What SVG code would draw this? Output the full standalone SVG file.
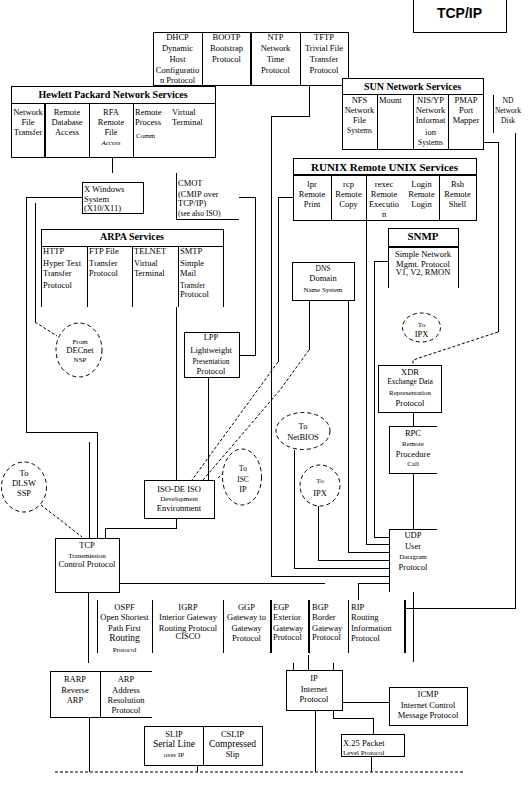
<svg xmlns="http://www.w3.org/2000/svg" width="530" height="808" viewBox="0 0 530 808">
<style>
text{font-family:"Liberation Serif","Times New Roman",serif;font-size:8.5px;fill:#000;text-anchor:middle}
.l{text-anchor:start}
.s{font-size:7px}
.m{font-size:7.5px}
.g{font-size:9.5px}
.h{font-weight:bold;font-size:10px}
.h11{font-weight:bold;font-size:11px}
.i{font-style:italic}
.ttl{font-family:"Liberation Sans",Arial,sans-serif;font-weight:bold;font-size:14px}
.bx{fill:#fff;stroke:#000;stroke-width:1;shape-rendering:crispEdges}
.op{fill:none;stroke:#000;stroke-width:1;shape-rendering:crispEdges}
.th{stroke-width:2}
.ov{fill:#fff;stroke:#000;stroke-width:1;stroke-dasharray:4 3}
#connectors path{fill:none;stroke:#000;stroke-width:1;shape-rendering:crispEdges}
#connectors path.d{stroke-dasharray:3 2;shape-rendering:auto}
</style>
<rect width="530" height="808" fill="#fff"/>

<g id="connectors">
<path d="M112,157 V173"/>
<path d="M82,197 H26 V432 H97 V538"/>
<path d="M89,442 V538"/>
<path d="M35,203 V322"/>
<path class="d" d="M35,322 L57,336"/>
<path d="M239,197 H255 V355 H239"/>
<path d="M176,307 V480"/>
<path d="M208,377 V480"/>
<path d="M176,518 V528 H105 V538"/>
<path class="d" d="M41,505 L82,537"/>
<path d="M119,583 H325"/>
<path d="M88,592 V663"/>
<path d="M89,717 V772"/>
<path d="M309,85 V116 H271 V576 H389"/>
<path d="M293,197 H278 V362"/>
<path class="d" d="M278,362 L192,480"/>
<path d="M309,300 V350"/>
<path class="d" d="M309,350 L280,390 L203,480"/>
<path class="d" d="M218,478 L227,470"/>
<path d="M348,300 V552 H389"/>
<path d="M366,220 V544 H389"/>
<path d="M388,261 H374 V537 H389"/>
<path d="M483,142 H498 V332"/>
<path class="d" d="M498,332 L413,360 V365"/>
<path d="M515,133 V608 H405"/>
<path d="M413,412 V426"/>
<path d="M413,473 V529"/>
<path d="M294,450 V568 H389"/>
<path d="M318,506 V560 H389"/>
<path d="M389,583 H358 V600"/>
<path d="M413,592 V662"/>
<path d="M293,663 V670"/>
<path d="M308,655 V670"/>
<path d="M333,663 V670"/>
<path d="M342,702 H389"/>
<path d="M333,710 V718 H373 V734"/>
<path d="M371,756 V772"/>
<path d="M315,710 V772"/>
<path d="M197,765 V772"/>
<path class="d" d="M55,772 H465"/>
</g>

<g id="tcpip">
<rect class="bx" x="413" y="-1" width="93" height="33"/>
<text class="ttl" x="459.5" y="18">TCP/IP</text>
</g>

<g id="dhcp">
<rect class="bx" x="153" y="32" width="49" height="53"/>
<text x="177.5" y="40">DHCP</text>
<text x="177.5" y="51">Dynamic</text>
<text x="177.5" y="62">Host</text>
<text x="177.5" y="73">Configuratio</text>
<text x="177.5" y="83">n Protocol</text>
</g>
<g id="bootp">
<rect class="bx" x="202" y="32" width="49" height="53"/>
<text x="226.5" y="40">BOOTP</text>
<text x="226.5" y="51">Bootstrap</text>
<text x="226.5" y="62">Protocol</text>
</g>
<g id="ntp">
<rect class="bx" x="251" y="32" width="49" height="53"/>
<path class="op th" d="M251,32 V85"/>
<text x="275.5" y="40">NTP</text>
<text x="275.5" y="51">Network</text>
<text x="275.5" y="62">Time</text>
<text x="275.5" y="73">Protocol</text>
</g>
<g id="tftp">
<rect class="bx" x="300" y="32" width="48" height="53"/>
<text x="324" y="40">TFTP</text>
<text x="324" y="51">Trivial File</text>
<text x="324" y="62">Transfer</text>
<text x="324" y="73">Protocol</text>
</g>

<g id="hp">
<rect class="bx" x="11" y="86" width="204" height="71"/>
<path class="op" d="M11,103 H215 M89,103 V157 M133,103 V157"/>
<path class="op th" d="M45,103 V157"/>
<text class="h" x="113" y="98">Hewlett Packard Network Services</text>
<text x="28" y="115">Network</text>
<text x="28" y="125">File</text>
<text x="28" y="135">Transfer</text>
<text x="67" y="115">Remote</text>
<text x="67" y="125">Database</text>
<text x="67" y="135">Access</text>
<text x="111" y="115">RFA</text>
<text x="111" y="125">Remote</text>
<text x="111" y="135">File</text>
<text class="s i" x="111" y="145">Access</text>
<text class="l" x="135" y="115">Remote</text>
<text class="l" x="135" y="125">Process</text>
<text class="l s" x="136" y="138">Comm</text>
<text class="l" x="172" y="115">Virtual</text>
<text class="l" x="172" y="125">Terminal</text>
</g>

<g id="xwindows">
<rect class="bx" x="82" y="182" width="61" height="31"/>
<text class="l" x="84" y="192">X Windows</text>
<text class="l" x="84" y="201.5">System</text>
<text class="l" x="84" y="210.5">(X10/X11)</text>
</g>

<g id="cmot">
<path class="op" d="M176,173 V219 H239"/>
<text class="l" x="178" y="186">CMOT</text>
<text class="l" x="178" y="196.5">(CMIP over</text>
<text class="l" x="178" y="206">TCP/IP)</text>
<text class="l m" x="178" y="215.5">(see also ISO)</text>
</g>

<g id="arpa">
<path class="bx" d="M41,307 V229 H223 V307"/>
<path class="op" d="M41,246 H223 M87,246 V307 M132,246 V307 M178,246 V307"/>
<text class="h" x="132" y="240">ARPA Services</text>
<text class="l" x="43" y="254">HTTP</text>
<text class="l" x="43" y="266">Hyper Text</text>
<text class="l" x="43" y="276">Transfer</text>
<text class="l" x="43" y="288">Protocol</text>
<text class="l" x="89" y="254">FTP File</text>
<text class="l" x="89" y="266">Transfer</text>
<text class="l" x="89" y="276">Protocol</text>
<text class="l" x="134" y="254">TELNET</text>
<text class="l" x="134" y="266">Virtual</text>
<text class="l" x="134" y="276">Terminal</text>
<text class="l" x="180" y="254">SMTP</text>
<text class="l" x="180" y="266">Simple</text>
<text class="l" x="180" y="276">Mail</text>
<text class="l m" x="180" y="288">Transfer</text>
<text class="l" x="180" y="297">Protocol</text>
</g>

<g id="decnet">
<ellipse class="ov" cx="79" cy="350" rx="23" ry="27"/>
<text class="s" x="80" y="344">From</text>
<text x="80" y="353">DECnet</text>
<text class="s" x="80" y="362">NSP</text>
</g>

<g id="lpp">
<rect class="bx" x="184" y="332" width="55" height="45"/>
<text x="211" y="340">LPP</text>
<text x="211" y="353">Lightweight</text>
<text class="m" x="211" y="363.5">Presentation</text>
<text x="211" y="373.5">Protocol</text>
</g>

<g id="isode">
<rect class="bx" x="144" y="480" width="70" height="38"/>
<text x="179" y="492">ISO-DE ISO</text>
<text class="s" x="179" y="501">Development</text>
<text x="179" y="511">Environment</text>
</g>

<g id="iscip">
<ellipse class="ov" cx="242" cy="477" rx="19.5" ry="28"/>
<text class="m" x="243" y="471">To</text>
<text class="m" x="243" y="482">ISC</text>
<text x="243" y="492">IP</text>
</g>

<g id="dlsw">
<ellipse class="ov" cx="24" cy="487" rx="22.5" ry="25"/>
<text x="24" y="476">To</text>
<text x="24" y="486">DLSW</text>
<text x="24" y="496">SSP</text>
</g>

<g id="tcp">
<rect class="bx" x="55" y="538" width="64" height="54"/>
<text x="87" y="548">TCP</text>
<text class="s" x="87" y="558">Transmission</text>
<text x="87" y="567">Control Protocol</text>
</g>

<g id="sun">
<rect class="bx" x="342" y="78" width="141" height="71"/>
<path class="op" d="M342,94 H483 M377,94 V149 M413,94 V149 M448,94 V149"/>
<text class="h" x="412.5" y="90">SUN Network Services</text>
<text x="359.5" y="103">NFS</text>
<text x="359.5" y="113">Network</text>
<text x="359.5" y="123">File</text>
<text class="m" x="359.5" y="133">Systems</text>
<text class="l" x="379" y="103">Mount</text>
<text x="430.5" y="103">NIS/YP</text>
<text x="430.5" y="113">Network</text>
<text x="430.5" y="123">Informat</text>
<text x="430.5" y="135">ion</text>
<text class="m" x="430.5" y="145">Systems</text>
<text x="466" y="103">PMAP</text>
<text x="466" y="113">Port</text>
<text x="466" y="123">Mapper</text>
</g>

<g id="nd">
<path class="op" d="M493,95 V133"/>
<text class="m" x="508" y="103">ND</text>
<text class="m" x="508" y="113">Network</text>
<text class="m" x="508" y="123">Disk</text>
</g>

<g id="runix">
<rect class="bx" x="293" y="158" width="183" height="62"/>
<path class="op th" d="M293,175 H476"/>
<path class="op" d="M331,175 V220 M366,175 V220 M439,175 V220"/>
<text class="h11" x="384.5" y="170.5">RUNIX Remote UNIX Services</text>
<text x="312" y="186.5">lpr</text>
<text x="312" y="196.5">Remote</text>
<text x="312" y="206.5">Print</text>
<text x="348.5" y="186.5">rcp</text>
<text x="348.5" y="196.5">Remote</text>
<text x="348.5" y="206.5">Copy</text>
<text x="384" y="186.5">rexec</text>
<text x="384" y="196.5">Remote</text>
<text x="384" y="206.5">Executio</text>
<text x="384" y="216.5">n</text>
<text x="421.5" y="186.5">Login</text>
<text x="421.5" y="196.5">Remote</text>
<text x="421.5" y="206.5">Login</text>
<text x="457.5" y="186.5">Rsh</text>
<text x="457.5" y="196.5">Remote</text>
<text x="457.5" y="206.5">Shell</text>
</g>

<g id="snmp">
<path class="bx" d="M388,288 V228 H458 V288"/>
<path class="op th" d="M388,247 H458"/>
<text class="h11" x="423" y="240">SNMP</text>
<text x="423" y="257">Simple Network</text>
<text x="423" y="266.5">Mgmt. Protocol</text>
<text x="423" y="275">V1, V2, RMON</text>
</g>

<g id="dns">
<rect class="bx" x="292" y="262" width="62" height="38"/>
<text class="m" x="323" y="271">DNS</text>
<text x="323" y="281">Domain</text>
<text class="s" x="323" y="292">Name System</text>
</g>

<g id="ipx-upper">
<ellipse class="ov" cx="421.5" cy="327.5" rx="19" ry="14.5"/>
<text class="s" x="421.5" y="326.5">To</text>
<text x="421.5" y="337">IPX</text>
</g>

<g id="xdr">
<rect class="bx" x="378" y="365" width="63" height="47"/>
<text x="410" y="375">XDR</text>
<text class="m" x="410" y="383.5">Exchange Data</text>
<text class="s" x="410" y="395">Representation</text>
<text x="410" y="405.5">Protocol</text>
</g>

<g id="rpc">
<path class="bx" d="M437,426 H389 V473 H437"/>
<text x="413" y="436">RPC</text>
<text class="s" x="413" y="446">Remote</text>
<text x="413" y="457">Procedure</text>
<text class="s" x="413" y="466">Call</text>
</g>

<g id="netbios">
<ellipse class="ov" cx="303" cy="431" rx="27" ry="18.5"/>
<text x="303" y="428.5">To</text>
<text x="303" y="440">NetBIOS</text>
</g>

<g id="ipx-lower">
<ellipse class="ov" cx="320" cy="485.5" rx="20" ry="20.5"/>
<text class="s" x="320" y="483">To</text>
<text x="320" y="496">IPX</text>
</g>

<g id="udp">
<path class="op" d="M437,529 H389 V592"/>
<text x="413" y="538">UDP</text>
<text x="413" y="548.5">User</text>
<text class="s" x="413" y="558.5">Datagram</text>
<text x="413" y="569.5">Protocol</text>
</g>

<g id="ospf">
<path class="op" d="M97,600 V653"/>
<text x="124.5" y="609.5">OSPF</text>
<text x="124.5" y="619.5">Open Shortest</text>
<text x="124.5" y="630.5">Path First</text>
<text class="g" x="124.5" y="641">Routing</text>
<text class="s" x="124.5" y="651.5">Protocol</text>
</g>
<g id="igrp">
<path class="op" d="M152,600 V653"/>
<text x="188" y="609.5">IGRP</text>
<text x="188" y="619.5">Interior Gateway</text>
<text x="188" y="630.5">Routing Protocol</text>
<text x="188" y="639">CISCO</text>
</g>
<g id="ggp">
<path class="op" d="M223,600 V653"/>
<text x="246.5" y="609.5">GGP</text>
<text x="246.5" y="619.5">Gateway to</text>
<text x="246.5" y="630.5">Gateway</text>
<text x="246.5" y="640.5">Protocol</text>
</g>
<g id="egp">
<path class="op th" d="M271,600 V653"/>
<text class="l" x="273" y="609.5">EGP</text>
<text class="l" x="273" y="619.5">Exterior</text>
<text class="l" x="273" y="630.5">Gateway</text>
<text class="l" x="273" y="640">Protocol</text>
</g>
<g id="bgp">
<path class="op th" d="M309,600 V653"/>
<text class="l" x="312" y="609.5">BGP</text>
<text class="l" x="312" y="619.5">Border</text>
<text class="l" x="312" y="630.5">Gateway</text>
<text class="l" x="312" y="640">Protocol</text>
</g>
<g id="rip">
<path class="op" d="M348,600 V653"/>
<path class="op th" d="M405,600 V653"/>
<text class="l" x="351" y="609.5">RIP</text>
<text class="l" x="351" y="619.5">Routing</text>
<text class="l" x="351" y="630.5">Information</text>
<text class="l" x="351" y="641">Protocol</text>
</g>

<g id="rarp">
<path class="bx" d="M100,671 H50 V717 H100 Z"/>
<text x="75" y="681.5">RARP</text>
<text x="75" y="692.5">Reverse</text>
<text x="75" y="702.5">ARP</text>
</g>
<g id="arp">
<path class="op" d="M100,671 H152 M100,717 H152"/>
<text x="126" y="681.5">ARP</text>
<text x="126" y="692.5">Address</text>
<text x="126" y="702.5">Resolution</text>
<text x="126" y="712.5">Protocol</text>
</g>

<g id="ip">
<rect class="bx" x="286" y="670" width="56" height="40"/>
<text x="314" y="680.5">IP</text>
<text x="314" y="692">Internet</text>
<text x="314" y="701.5">Protocol</text>
</g>

<g id="icmp">
<rect class="bx" x="389" y="687" width="78" height="38"/>
<text x="428" y="697">ICMP</text>
<text x="428" y="707.5">Internet Control</text>
<text x="428" y="717.5">Message Protocol</text>
</g>

<g id="x25">
<rect class="bx" x="341" y="734" width="63" height="22"/>
<text class="l" x="343" y="745.5">X.25 Packet</text>
<text class="l s" x="343" y="755">Level Protocol</text>
</g>

<g id="slip">
<rect class="bx" x="144" y="726" width="59" height="39"/>
<text x="174" y="736.5">SLIP</text>
<text class="g" x="174" y="747">Serial Line</text>
<text class="s" x="174" y="756.5">over IP</text>
</g>
<g id="cslip">
<rect class="bx" x="203" y="726" width="59" height="39"/>
<text x="232.5" y="736.5">CSLIP</text>
<text class="g" x="232.5" y="747">Compressed</text>
<text x="232.5" y="756.5">Slip</text>
</g>
</svg>
